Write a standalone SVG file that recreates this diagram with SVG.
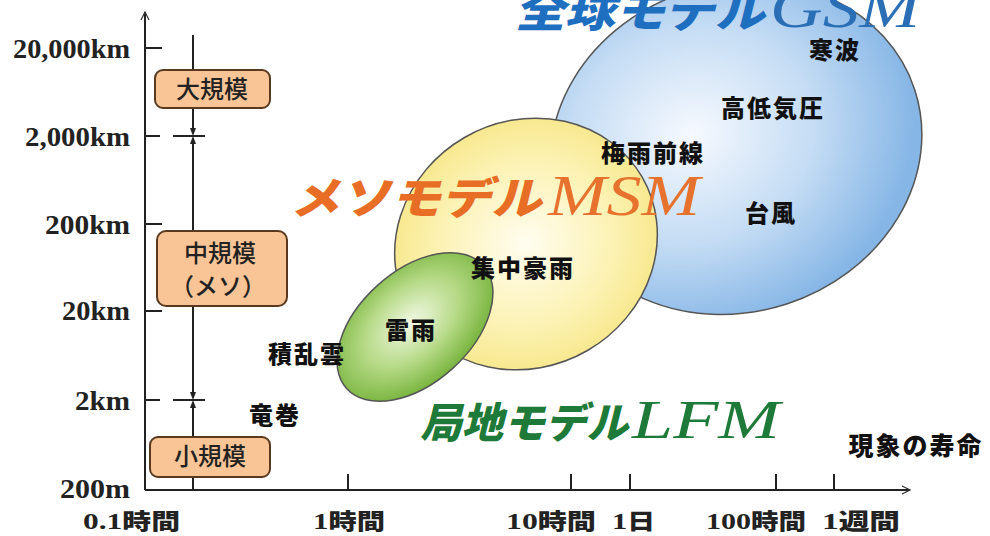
<svg xmlns="http://www.w3.org/2000/svg" width="990" height="536" viewBox="0 0 990 536">
<defs>
<radialGradient id="gBlue" cx="0.4" cy="0.42" r="0.6">
<stop offset="0" stop-color="#f6f9fe"/><stop offset="0.55" stop-color="#c4dcf4"/><stop offset="1" stop-color="#86b6e6"/>
</radialGradient>
<radialGradient id="gYel" cx="0.5" cy="0.5" r="0.55">
<stop offset="0" stop-color="#fffdf0"/><stop offset="0.6" stop-color="#fcf2b4"/><stop offset="1" stop-color="#f6e685"/>
</radialGradient>
<radialGradient id="gGrn" cx="0.5" cy="0.45" r="0.55">
<stop offset="0" stop-color="#f2f9e6"/><stop offset="0.55" stop-color="#b5d985"/><stop offset="1" stop-color="#78b43e"/>
</radialGradient>
<marker id="ah" markerWidth="10" markerHeight="10" refX="9" refY="5" orient="auto" markerUnits="userSpaceOnUse">
<path d="M1,1 L9,5 L1,9" fill="none" stroke="#333" stroke-width="1.2"/>
</marker>
<marker id="tri" markerWidth="8" markerHeight="8" refX="4" refY="4" orient="auto" markerUnits="userSpaceOnUse">
<path d="M0,1 L8,4 L0,7 Z" fill="#222"/>
</marker>
</defs>
<style>
.ax{stroke:#222;stroke-width:2;fill:none}
.tk{stroke:#222;stroke-width:2}
.num{font-family:"Liberation Serif",serif;font-weight:bold;font-size:27px;fill:#222}
.lab{font-family:"Noto Sans CJK JP",sans-serif;font-weight:900;font-size:24px;fill:#111;text-anchor:middle;letter-spacing:2px}
.xl{font-family:"Liberation Serif","Noto Sans CJK JP",serif;font-weight:bold;font-size:24px;fill:#222}
.xj{font-family:"Noto Sans CJK JP",sans-serif;font-weight:900;font-size:22px}
.box{fill:#f9c596;stroke:#5a3a1e;stroke-width:2}
.bt{font-family:"Noto Sans CJK JP",sans-serif;font-weight:500;font-size:24px;fill:#222;text-anchor:middle}
.ell{stroke:#555;stroke-width:1.5}
.tj{font-family:"Noto Sans CJK JP",sans-serif;font-weight:900;font-size:44px}
.te{font-family:"Liberation Serif",serif;font-style:italic;font-size:58px}
</style>

<g id="ellipse-gsm"><ellipse class="ell" cx="736" cy="148" rx="188" ry="164" transform="rotate(-18 736 148)" fill="url(#gBlue)"/></g>
<g id="ellipse-msm"><ellipse class="ell" cx="526" cy="244" rx="134" ry="123" transform="rotate(-30 526 244)" fill="url(#gYel)"/></g>
<g id="ellipse-lfm"><ellipse class="ell" cx="415" cy="327" rx="92" ry="56" transform="rotate(-42 415 327)" fill="url(#gGrn)"/></g>

<g id="axes">
<line class="ax" x1="145" y1="490" x2="145" y2="12" marker-end="url(#ah)"/>
<line class="ax" x1="145" y1="490" x2="910" y2="490" marker-end="url(#ah)"/>
<line class="tk" x1="145" y1="48" x2="162" y2="48"/>
<line class="tk" x1="145" y1="136" x2="160" y2="136"/>
<line class="tk" x1="145" y1="224" x2="162" y2="224"/>
<line class="tk" x1="145" y1="311" x2="162" y2="311"/>
<line class="tk" x1="145" y1="400" x2="160" y2="400"/>
<line class="tk" x1="348" y1="490" x2="348" y2="474"/>
<line class="tk" x1="571" y1="490" x2="571" y2="474"/>
<line class="tk" x1="630" y1="490" x2="630" y2="474"/>
<line class="tk" x1="776" y1="490" x2="776" y2="474"/>
<line class="tk" x1="834" y1="490" x2="834" y2="474"/>
</g>

<g id="scale-line">
<line class="tk" x1="193" y1="35" x2="193" y2="70"/>
<line class="tk" x1="193" y1="108" x2="193" y2="132" marker-end="url(#tri)"/>
<line class="tk" x1="173" y1="136" x2="205" y2="136"/>
<line class="tk" x1="193" y1="231" x2="193" y2="140" marker-end="url(#tri)"/>
<line class="tk" x1="193" y1="306" x2="193" y2="396" marker-end="url(#tri)"/>
<line class="tk" x1="173" y1="400" x2="205" y2="400"/>
<line class="tk" x1="193" y1="437" x2="193" y2="404" marker-end="url(#tri)"/>
<line class="tk" x1="193" y1="477" x2="193" y2="490"/>
</g>

<g id="y-labels">
<text class="num" x="13" y="58" textLength="117" lengthAdjust="spacingAndGlyphs">20,000km</text>
<text class="num" x="25" y="146" textLength="105" lengthAdjust="spacingAndGlyphs">2,000km</text>
<text class="num" x="45" y="234" textLength="85" lengthAdjust="spacingAndGlyphs">200km</text>
<text class="num" x="62" y="320" textLength="68" lengthAdjust="spacingAndGlyphs">20km</text>
<text class="num" x="75" y="410" textLength="55" lengthAdjust="spacingAndGlyphs">2km</text>
<text class="num" x="60" y="498" textLength="70" lengthAdjust="spacingAndGlyphs">200m</text>
</g>

<g id="x-labels">
<text class="xl" x="83" y="529" textLength="97" lengthAdjust="spacingAndGlyphs">0.1<tspan class="xj">時間</tspan></text>
<text class="xl" x="313" y="529" textLength="72" lengthAdjust="spacingAndGlyphs">1<tspan class="xj">時間</tspan></text>
<text class="xl" x="506" y="529" textLength="90" lengthAdjust="spacingAndGlyphs">10<tspan class="xj">時間</tspan></text>
<text class="xl" x="612" y="529" textLength="43" lengthAdjust="spacingAndGlyphs">1<tspan class="xj">日</tspan></text>
<text class="xl" x="706" y="529" textLength="100" lengthAdjust="spacingAndGlyphs">100<tspan class="xj">時間</tspan></text>
<text class="xl" x="822" y="529" textLength="78" lengthAdjust="spacingAndGlyphs">1<tspan class="xj">週間</tspan></text>
<text class="lab" x="916" y="455" style="font-size:25px">現象の寿命</text>
</g>

<g id="box-large"><rect class="box" x="155" y="70" width="115" height="38" rx="8"/><text class="bt" x="212" y="98">大規模</text></g>
<g id="box-meso"><rect class="box" x="157" y="231" width="130" height="75" rx="9"/><text class="bt" x="220" y="262">中規模</text><text class="bt" x="218" y="295">（メソ）</text></g>
<g id="box-small"><rect class="box" x="150" y="437" width="120" height="40" rx="8"/><text class="bt" x="210" y="465">小規模</text></g>

<g id="phenomena">
<text class="lab" x="835" y="59">寒波</text>
<text class="lab" x="773" y="117">高低気圧</text>
<text class="lab" x="653" y="162">梅雨前線</text>
<text class="lab" x="771" y="222">台風</text>
<text class="lab" x="523" y="277">集中豪雨</text>
<text class="lab" x="411" y="339">雷雨</text>
<text class="lab" x="307" y="363">積乱雲</text>
<text class="lab" x="275" y="424">竜巻</text>
</g>

<g id="title-gsm" fill="#1f6fc0">
<text class="tj" x="0" y="0" transform="translate(515 27) skewX(-14)" textLength="250" lengthAdjust="spacingAndGlyphs">全球モデル</text>
<text class="te" x="770" y="27" fill="#2a6fb5" textLength="150" lengthAdjust="spacingAndGlyphs">GSM</text>
</g>
<g id="title-msm" fill="#e86e26">
<text class="tj" x="0" y="0" transform="translate(290 214) skewX(-14)" textLength="252" lengthAdjust="spacingAndGlyphs">メソモデル</text>
<text class="te" x="548" y="215" fill="#e6722e" textLength="152" lengthAdjust="spacingAndGlyphs">MSM</text>
</g>
<g id="title-lfm" fill="#1e7a38">
<text class="tj" x="0" y="0" transform="translate(420 438) skewX(-14)" textLength="208" lengthAdjust="spacingAndGlyphs" style="font-size:42px">局地モデル</text>
<text class="te" x="632" y="438" textLength="148" lengthAdjust="spacingAndGlyphs" style="font-size:54px">LFM</text>
</g>
</svg>
